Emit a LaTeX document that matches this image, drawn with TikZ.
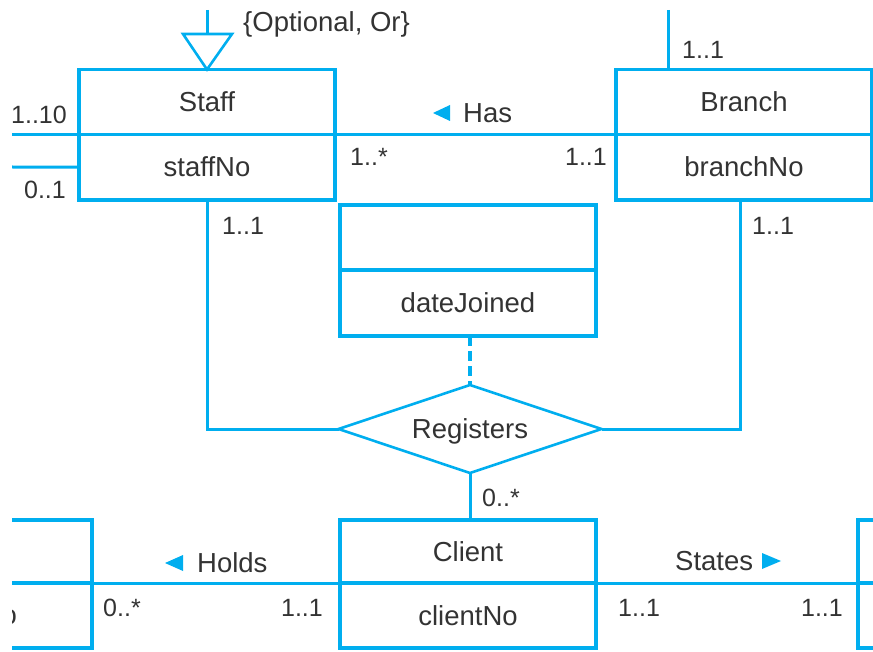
\documentclass[tikz,border=0pt]{standalone}
\usepackage{fontspec}
\setmainfont{Liberation Sans}
\usetikzlibrary{shapes.geometric}
\definecolor{umlblue}{RGB}{0,174,239}
\definecolor{txt}{RGB}{51,51,51}
\begin{document}
\begin{tikzpicture}[x=1pt,y=-1pt,
  cls/.style={draw=umlblue,line width=3.3pt,rectangle,inner sep=0pt,outer sep=0pt,
    minimum width=256pt,text height=19.5pt,text depth=0pt,text=txt,
    font=\fontsize{27.5}{30}\selectfont},
  conn/.style={draw=umlblue,line width=3pt},
  boxline/.style={draw=umlblue,line width=3.3pt},
  lab/.style={inner sep=0pt,text=txt,font=\fontsize{25}{30}\selectfont,text height=18pt,text depth=0pt},
  word/.style={lab,font=\fontsize{27.5}{30}\selectfont,text height=19.5pt},
  rel/.style={draw=umlblue,line width=2.6pt,diamond,aspect=3,inner sep=0pt,outer sep=0pt,
    minimum width=263pt,minimum height=88pt,text height=19.5pt,text depth=0pt,text=txt,
    font=\fontsize{27.5}{30}\selectfont}
]
\useasboundingbox (0,0) rectangle (873,652);
\clip (12,10) rectangle (873,652);

% classes
\node[cls,minimum height=65pt] (staff) at (207,102) {Staff};
\node[cls,minimum height=65.5pt] (staffno) at (207,167.25) {staffNo};
\node[cls,minimum height=65pt] (branch) at (744,102) {Branch};
\node[cls,minimum height=65.5pt] (branchno) at (744,167.25) {branchNo};
\node[cls,minimum height=65pt] (assoc) at (468,237.5) {};
\node[cls,minimum height=66pt] (assocattr) at (468,303) {dateJoined};
\node[cls,minimum height=63pt] (client) at (468,551.5) {Client};
\node[cls,minimum height=65pt] (clientno) at (468,615.5) {clientNo};
\node[rel] (reg) at (470,429) {Registers};

% partial boxes at the edges
\coordinate (lb) at (92,583);
\coordinate (rb) at (858,583);
\draw[boxline] (12,520) -- (92,520) -- (92,648) -- (12,648);
\draw[boxline] (12,583) -- (lb);
\draw[boxline] (873,520) -- (858,520) -- (858,648) -- (873,648);
\draw[boxline] (rb) -- (873,583);
\node[word,anchor=east] (po) at (17,615) {o};

% generalization at top
\coordinate (gtop) at (207,10);
\coordinate (gbase) at (207,34);
\coordinate (gl) at (183,34);
\coordinate (gr) at (232,34);
\draw[conn] (gtop) -- (gbase);
\draw[conn,line width=2.6pt,line join=miter] (gl) -- (gr) -- (staff.north) -- cycle;
\node[word,anchor=west] (opt) at (243,22) {\{Optional, Or\}};

% staff left lines
\coordinate (l1) at (12,134.5);
\coordinate (l2) at (12,167);
\draw[conn] (l1) -- (staff.south west);
\draw[conn] (l2) -- (staffno.west);
\node[lab,anchor=east] (m110) at (67,115) {1..10};
\node[lab,anchor=east] (m01) at (66,190) {0..1};

% Has
\draw[conn] (staff.south east) -- (branch.south west);
\node[word,anchor=west] (has) at (463,113) {Has};
\fill[umlblue] ([xshift=-30pt]has.west) -- ++(17,-8) -- ++(0,16) -- cycle;
\node[lab,anchor=west] (mhas1) at (350,157) {1..*};
\node[lab,anchor=east] (mhas2) at (607,157) {1..1};

% branch top
\coordinate (btop) at (668,10);
\draw[conn] (btop) -- (btop |- branch.north);
\node[lab,anchor=west] (mbtop) at (682,50) {1..1};

% registers
\draw[conn] (staffno.south) |- (reg.west);
\draw[conn] ([xshift=-4pt]branchno.south) |- (reg.east);
\draw[conn,line width=3.3pt,dash pattern=on 10pt off 5pt] (reg.north |- assocattr.south) -- (reg.north);
\draw[conn] (reg.south) -- (reg.south |- client.north);
\node[lab,anchor=west] (mreg1) at (222,226) {1..1};
\node[lab,anchor=west] (mreg2) at (752,226) {1..1};
\node[lab,anchor=west] (mreg3) at (482,497) {0..*};

% Holds
\draw[conn] (lb) -- (clientno.north west);
\node[word,anchor=west] (holds) at (197,563) {Holds};
\fill[umlblue] ([xshift=-32pt]holds.west) -- ++(18,-8) -- ++(0,16) -- cycle;
\node[lab,anchor=west] (mh1) at (103,607) {0..*};
\node[lab,anchor=east] (mh2) at (323,607) {1..1};

% States
\draw[conn] (clientno.north east) -- (rb);
\node[word,anchor=west] (states) at (675,561) {States};
\fill[umlblue] (762,553) -- (781,561) -- (762,569) -- cycle;
\node[lab,anchor=west] (ms1) at (618,607) {1..1};
\node[lab,anchor=east] (ms2) at (843,607) {1..1};
\end{tikzpicture}
\end{document}
